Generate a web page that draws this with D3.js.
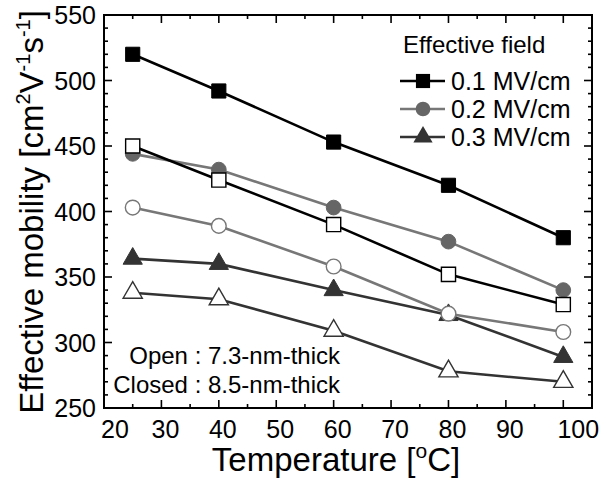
<!DOCTYPE html>
<html>
<head>
<meta charset="utf-8">
<script src="https://cdn.jsdelivr.net/npm/d3@7"></script>
<style>
  body { margin: 0; background: #fff; }
  svg { display: block; font-family: "Liberation Sans", Arial, sans-serif; }
</style>
</head>
<body>
<svg id="chart" width="607" height="482"></svg>
<script>
// temperatures [oC]
const temps = [25, 40, 60, 80, 100];

// closed symbols: 8.5-nm-thick
const closed01 = [520, 492, 453, 420, 380];
const closed02 = [444, 432, 403, 377, 340];
const closed03 = [364, 360, 340, 321, 289];

// open symbols: 7.3-nm-thick
const open01 = [450, 424, 390, 352, 329];
const open02 = [403, 389, 358, 322, 308];
const open03 = [338, 333, 309, 278, 270];

const fieldLabels = ["0.1 MV/cm", "0.2 MV/cm", "0.3 MV/cm"];
const xTicks = [20, 30, 40, 50, 60, 70, 80, 90, 100];
const yTicks = [250, 300, 350, 400, 450, 500, 550];

const svg = d3.select("#chart");
const x = d3.scaleLinear().domain([20, 105]).range([104, 592]);
const y = d3.scaleLinear().domain([250, 550]).range([408, 15]);

// one style per field
const styles = [
  { line: "#000", fill: "#000", shape: d3.symbolSquare, size: 200 },
  { line: "#777", fill: "#666", shape: d3.symbolCircle, size: 170 },
  { line: "#333", fill: "#333", shape: d3.symbolTriangle, size: 160 }
];

const series = [
  { vals: closed01, st: styles[0], open: false },
  { vals: closed02, st: styles[1], open: false },
  { vals: closed03, st: styles[2], open: false },
  { vals: open01, st: styles[0], open: true },
  { vals: open02, st: styles[1], open: true },
  { vals: open03, st: styles[2], open: true }
];

const line = d3.line().x((d, i) => x(temps[i])).y(d => y(d));

// lines + markers
series.forEach(s => {
  svg.append("path")
    .attr("d", line(s.vals))
    .attr("fill", "none")
    .attr("stroke", s.st.line)
    .attr("stroke-width", 2.6);
});
series.forEach(s => {
  svg.selectAll(null)
    .data(s.vals)
    .enter()
    .append("path")
    .attr("d", d3.symbol().type(s.st.shape).size(s.st.size))
    .attr("transform", (d, i) => `translate(${x(temps[i])},${y(d)})`)
    .attr("fill", s.open ? "#fff" : s.st.fill)
    .attr("stroke", s.open ? s.st.line : (s.st.line === "#777" ? "#666" : s.st.line))
    .attr("stroke-width", s.open ? 1.4 : 1);
});

// frame with inward ticks
const axes = svg.append("g").attr("stroke", "#000").attr("stroke-width", 1.6);
const xMinor = d3.range(25, 105, 10);
const yMinor = d3.range(260, 550, 10).filter(v => v % 50 !== 0);

function ticksX(vals, len) {
  vals.forEach(v => {
    axes.append("line").attr("x1", x(v)).attr("x2", x(v)).attr("y1", y(250)).attr("y2", y(250) - len);
    axes.append("line").attr("x1", x(v)).attr("x2", x(v)).attr("y1", y(550)).attr("y2", y(550) + len);
  });
}
function ticksY(vals, len) {
  vals.forEach(v => {
    axes.append("line").attr("y1", y(v)).attr("y2", y(v)).attr("x1", x(20)).attr("x2", x(20) + len);
    axes.append("line").attr("y1", y(v)).attr("y2", y(v)).attr("x1", x(105)).attr("x2", x(105) - len);
  });
}
ticksX(xTicks, 8);
ticksX(xMinor, 4);
ticksY(yTicks, 8);
ticksY(yMinor, 4);

svg.append("rect")
  .attr("x", x(20)).attr("y", y(550))
  .attr("width", x(105) - x(20)).attr("height", y(250) - y(550))
  .attr("fill", "none").attr("stroke", "#000").attr("stroke-width", 2);

// tick labels
svg.selectAll(".xl")
  .data(xTicks)
  .enter()
  .append("text")
  .attr("x", d => x(d) + (d === 20 ? 11 : d === 100 ? 15 : 4))
  .attr("y", 438)
  .attr("text-anchor", "middle")
  .attr("font-size", 25)
  .text(d => d);

svg.selectAll(".yl")
  .data(yTicks)
  .enter()
  .append("text")
  .attr("x", 96)
  .attr("y", d => y(d) + 9)
  .attr("text-anchor", "end")
  .attr("font-size", 25)
  .text(d => d);

// axis titles
const xt = svg.append("text")
  .attr("x", 336).attr("y", 471)
  .attr("text-anchor", "middle")
  .attr("font-size", 33);
xt.append("tspan").text("Temperature [");
xt.append("tspan").attr("font-size", 21).attr("dy", -13).text("o");
xt.append("tspan").attr("dy", 13).text("C]");

const yt = svg.append("text")
  .attr("transform", "translate(43,212) rotate(-90)")
  .attr("text-anchor", "middle")
  .attr("font-size", 33);
yt.append("tspan").text("Effective mobility [cm");
yt.append("tspan").attr("font-size", 20).attr("dy", -13).text("2");
yt.append("tspan").attr("dy", 13).text("V");
yt.append("tspan").attr("font-size", 20).attr("dy", -13).text("-1");
yt.append("tspan").attr("dy", 13).text("s");
yt.append("tspan").attr("font-size", 20).attr("dy", -13).text("-1");
yt.append("tspan").attr("dy", 13).text("]");

// legend
svg.append("text").attr("x", 403).attr("y", 53).attr("font-size", 24).text("Effective field");
const leg = svg.selectAll(".leg")
  .data(fieldLabels)
  .enter()
  .append("g")
  .attr("transform", (d, i) => `translate(0,${81 + i * 28})`);
leg.append("line")
  .attr("x1", 400).attr("x2", 445)
  .attr("stroke", (d, i) => styles[i].line)
  .attr("stroke-width", 2.6);
leg.append("path")
  .attr("d", (d, i) => d3.symbol().type(styles[i].shape).size(styles[i].size)())
  .attr("transform", "translate(423,0)")
  .attr("fill", (d, i) => styles[i].fill);
leg.append("text")
  .attr("x", 451).attr("y", 9)
  .attr("font-size", 25)
  .text(d => d);

// thickness note
svg.append("text").attr("x", 340).attr("y", 364).attr("text-anchor", "end").attr("font-size", 24).text("Open : 7.3-nm-thick");
svg.append("text").attr("x", 340).attr("y", 393).attr("text-anchor", "end").attr("font-size", 24).text("Closed : 8.5-nm-thick");
</script>
</body>
</html>
